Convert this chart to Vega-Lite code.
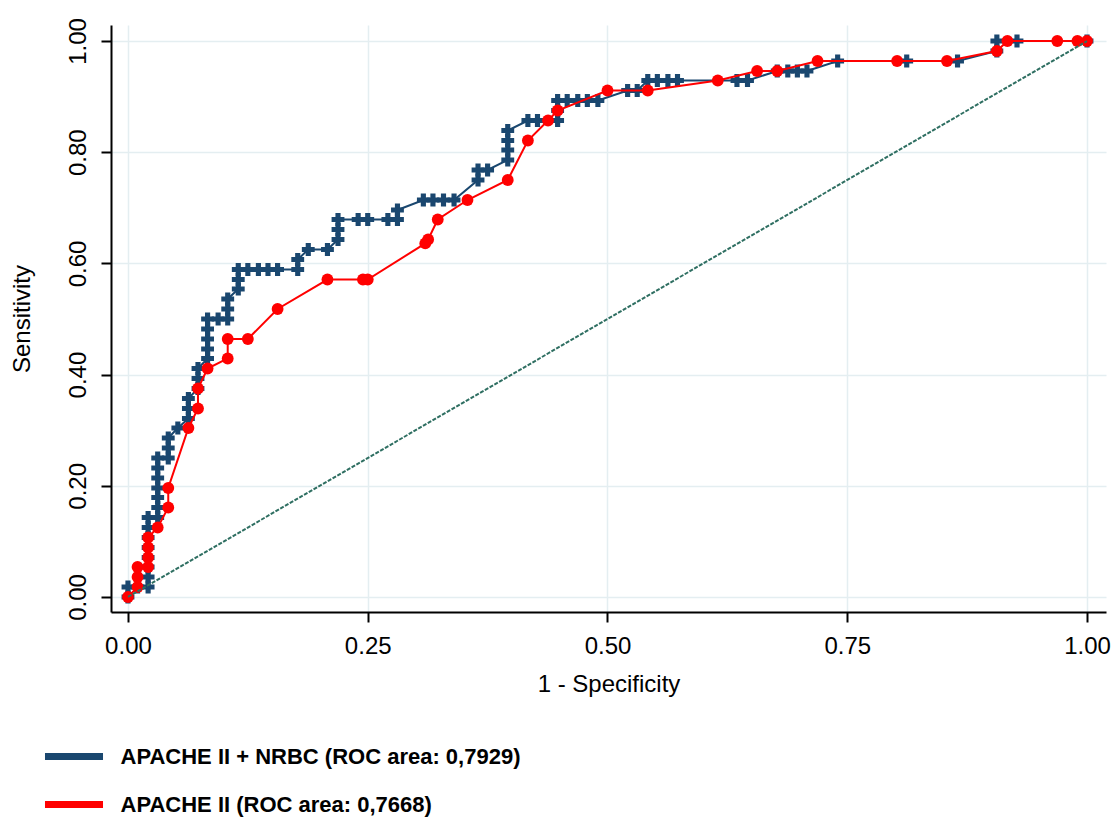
{
  "$schema": "https://vega.github.io/schema/vega-lite/v6.json",
  "width": 995,
  "height": 587,
  "autosize": {"type": "none"},
  "padding": {"left": 111, "top": 25, "right": 11, "bottom": 212},
  "background": "white",
  "config": {
    "view": {"stroke": null},
    "axis": {
      "domainColor": "black", "domainWidth": 2,
      "tickColor": "black", "tickWidth": 2, "tickSize": 10,
      "gridColor": "#e4eef1", "gridWidth": 1.5,
      "labelFont": "Liberation Sans", "labelFontSize": 24, "labelColor": "black",
      "titleFont": "Liberation Sans", "titleFontSize": 24, "titleFontWeight": "normal", "titleColor": "black"
    },
    "legend": {
      "orient": "none", "legendX": -66, "legendY": 718,
      "title": null, "padding": 0,
      "symbolType": "M-3,0H3", "symbolSize": 374, "symbolStrokeWidth": 7, "symbolOffset": 15.5,
      "labelOffset": 33, "labelFont": "Liberation Sans", "labelFontWeight": "bold",
      "labelFontSize": 22, "labelColor": "black", "labelLimit": 0, "rowPadding": 19
    }
  },
  "datasets": {
    "roc": [
      {"s":"b","i":1,"x":0,"y":0},
      {"s":"b","i":2,"x":0,"y":0.018},
      {"s":"b","i":3,"x":0.01,"y":0.018},
      {"s":"b","i":4,"x":0.021,"y":0.018},
      {"s":"b","i":5,"x":0.021,"y":0.036},
      {"s":"b","i":6,"x":0.021,"y":0.054},
      {"s":"b","i":7,"x":0.021,"y":0.071},
      {"s":"b","i":8,"x":0.021,"y":0.089},
      {"s":"b","i":9,"x":0.021,"y":0.107},
      {"s":"b","i":10,"x":0.021,"y":0.125},
      {"s":"b","i":11,"x":0.021,"y":0.143},
      {"s":"b","i":12,"x":0.031,"y":0.143},
      {"s":"b","i":13,"x":0.031,"y":0.161},
      {"s":"b","i":14,"x":0.031,"y":0.179},
      {"s":"b","i":15,"x":0.031,"y":0.196},
      {"s":"b","i":16,"x":0.031,"y":0.214},
      {"s":"b","i":17,"x":0.031,"y":0.232},
      {"s":"b","i":18,"x":0.031,"y":0.25},
      {"s":"b","i":19,"x":0.042,"y":0.25},
      {"s":"b","i":20,"x":0.042,"y":0.268},
      {"s":"b","i":21,"x":0.042,"y":0.286},
      {"s":"b","i":22,"x":0.052,"y":0.304},
      {"s":"b","i":23,"x":0.063,"y":0.321},
      {"s":"b","i":24,"x":0.063,"y":0.339},
      {"s":"b","i":25,"x":0.063,"y":0.357},
      {"s":"b","i":26,"x":0.073,"y":0.375},
      {"s":"b","i":27,"x":0.073,"y":0.393},
      {"s":"b","i":28,"x":0.073,"y":0.411},
      {"s":"b","i":29,"x":0.083,"y":0.429},
      {"s":"b","i":30,"x":0.083,"y":0.446},
      {"s":"b","i":31,"x":0.083,"y":0.464},
      {"s":"b","i":32,"x":0.083,"y":0.482},
      {"s":"b","i":33,"x":0.083,"y":0.5},
      {"s":"b","i":34,"x":0.094,"y":0.5},
      {"s":"b","i":35,"x":0.104,"y":0.5},
      {"s":"b","i":36,"x":0.104,"y":0.518},
      {"s":"b","i":37,"x":0.104,"y":0.536},
      {"s":"b","i":38,"x":0.115,"y":0.554},
      {"s":"b","i":39,"x":0.115,"y":0.571},
      {"s":"b","i":40,"x":0.115,"y":0.589},
      {"s":"b","i":41,"x":0.125,"y":0.589},
      {"s":"b","i":42,"x":0.136,"y":0.589},
      {"s":"b","i":43,"x":0.146,"y":0.589},
      {"s":"b","i":44,"x":0.156,"y":0.589},
      {"s":"b","i":45,"x":0.177,"y":0.589},
      {"s":"b","i":46,"x":0.177,"y":0.607},
      {"s":"b","i":47,"x":0.188,"y":0.625},
      {"s":"b","i":48,"x":0.208,"y":0.625},
      {"s":"b","i":49,"x":0.219,"y":0.643},
      {"s":"b","i":50,"x":0.219,"y":0.661},
      {"s":"b","i":51,"x":0.219,"y":0.679},
      {"s":"b","i":52,"x":0.24,"y":0.679},
      {"s":"b","i":53,"x":0.25,"y":0.679},
      {"s":"b","i":54,"x":0.271,"y":0.679},
      {"s":"b","i":55,"x":0.281,"y":0.679},
      {"s":"b","i":56,"x":0.281,"y":0.696},
      {"s":"b","i":57,"x":0.308,"y":0.714},
      {"s":"b","i":58,"x":0.318,"y":0.714},
      {"s":"b","i":59,"x":0.329,"y":0.714},
      {"s":"b","i":60,"x":0.34,"y":0.714},
      {"s":"b","i":61,"x":0.365,"y":0.75},
      {"s":"b","i":62,"x":0.365,"y":0.768},
      {"s":"b","i":63,"x":0.375,"y":0.768},
      {"s":"b","i":64,"x":0.396,"y":0.786},
      {"s":"b","i":65,"x":0.396,"y":0.804},
      {"s":"b","i":66,"x":0.396,"y":0.821},
      {"s":"b","i":67,"x":0.396,"y":0.839},
      {"s":"b","i":68,"x":0.417,"y":0.857},
      {"s":"b","i":69,"x":0.427,"y":0.857},
      {"s":"b","i":70,"x":0.448,"y":0.857},
      {"s":"b","i":71,"x":0.448,"y":0.875},
      {"s":"b","i":72,"x":0.448,"y":0.893},
      {"s":"b","i":73,"x":0.458,"y":0.893},
      {"s":"b","i":74,"x":0.469,"y":0.893},
      {"s":"b","i":75,"x":0.479,"y":0.893},
      {"s":"b","i":76,"x":0.49,"y":0.893},
      {"s":"b","i":77,"x":0.521,"y":0.911},
      {"s":"b","i":78,"x":0.531,"y":0.911},
      {"s":"b","i":79,"x":0.542,"y":0.929},
      {"s":"b","i":80,"x":0.552,"y":0.929},
      {"s":"b","i":81,"x":0.563,"y":0.929},
      {"s":"b","i":82,"x":0.573,"y":0.929},
      {"s":"b","i":83,"x":0.635,"y":0.929},
      {"s":"b","i":84,"x":0.646,"y":0.929},
      {"s":"b","i":85,"x":0.677,"y":0.946},
      {"s":"b","i":86,"x":0.688,"y":0.946},
      {"s":"b","i":87,"x":0.698,"y":0.946},
      {"s":"b","i":88,"x":0.708,"y":0.946},
      {"s":"b","i":89,"x":0.74,"y":0.964},
      {"s":"b","i":90,"x":0.812,"y":0.964},
      {"s":"b","i":91,"x":0.865,"y":0.964},
      {"s":"b","i":92,"x":0.906,"y":0.982},
      {"s":"b","i":93,"x":0.906,"y":1},
      {"s":"b","i":94,"x":0.927,"y":1},
      {"s":"b","i":95,"x":1,"y":1},
      {"s":"r","i":1,"x":0,"y":0},
      {"s":"r","i":2,"x":0.01,"y":0.018},
      {"s":"r","i":3,"x":0.01,"y":0.036},
      {"s":"r","i":4,"x":0.01,"y":0.054},
      {"s":"r","i":5,"x":0.021,"y":0.054},
      {"s":"r","i":6,"x":0.021,"y":0.071},
      {"s":"r","i":7,"x":0.021,"y":0.089},
      {"s":"r","i":8,"x":0.021,"y":0.107},
      {"s":"r","i":9,"x":0.031,"y":0.125},
      {"s":"r","i":10,"x":0.042,"y":0.161},
      {"s":"r","i":11,"x":0.042,"y":0.196},
      {"s":"r","i":12,"x":0.063,"y":0.304},
      {"s":"r","i":13,"x":0.073,"y":0.339},
      {"s":"r","i":14,"x":0.073,"y":0.375},
      {"s":"r","i":15,"x":0.083,"y":0.411},
      {"s":"r","i":16,"x":0.104,"y":0.429},
      {"s":"r","i":17,"x":0.104,"y":0.464},
      {"s":"r","i":18,"x":0.125,"y":0.464},
      {"s":"r","i":19,"x":0.156,"y":0.518},
      {"s":"r","i":20,"x":0.208,"y":0.571},
      {"s":"r","i":21,"x":0.245,"y":0.571},
      {"s":"r","i":22,"x":0.25,"y":0.571},
      {"s":"r","i":23,"x":0.31,"y":0.636},
      {"s":"r","i":24,"x":0.313,"y":0.643},
      {"s":"r","i":25,"x":0.323,"y":0.679},
      {"s":"r","i":26,"x":0.354,"y":0.714},
      {"s":"r","i":27,"x":0.396,"y":0.75},
      {"s":"r","i":28,"x":0.417,"y":0.821},
      {"s":"r","i":29,"x":0.438,"y":0.857},
      {"s":"r","i":30,"x":0.448,"y":0.875},
      {"s":"r","i":31,"x":0.5,"y":0.911},
      {"s":"r","i":32,"x":0.542,"y":0.911},
      {"s":"r","i":33,"x":0.615,"y":0.929},
      {"s":"r","i":34,"x":0.656,"y":0.946},
      {"s":"r","i":35,"x":0.677,"y":0.946},
      {"s":"r","i":36,"x":0.719,"y":0.964},
      {"s":"r","i":37,"x":0.802,"y":0.964},
      {"s":"r","i":38,"x":0.854,"y":0.964},
      {"s":"r","i":39,"x":0.906,"y":0.982},
      {"s":"r","i":40,"x":0.917,"y":1},
      {"s":"r","i":41,"x":0.969,"y":1},
      {"s":"r","i":42,"x":0.99,"y":1},
      {"s":"r","i":43,"x":1,"y":1}
    ],
    "diag": [
      {"x": 0, "y": 0},
      {"x": 1, "y": 1}
    ]
  },
  "layer": [
    {
      "data": {"name": "roc"},
      "transform": [{"filter": {"field": "s", "equal": "b"}}],
      "mark": {"type": "line", "strokeWidth": 2},
      "encoding": {
        "x": {
          "field": "x", "type": "quantitative",
          "scale": {"domain": [-0.0177, 1.0198], "nice": false, "zero": false},
          "axis": {"values": [0, 0.25, 0.5, 0.75, 1], "format": ".2f", "title": "1 - Specificity", "labelPadding": 12, "titlePadding": 14}
        },
        "y": {
          "field": "y", "type": "quantitative",
          "scale": {"domain": [-0.027, 1.0288], "nice": false, "zero": false},
          "axis": {"values": [0, 0.2, 0.4, 0.6, 0.8, 1], "format": ".2f", "title": "Sensitivity", "labelAngle": -90, "labelAlign": "center", "labelBaseline": "alphabetic", "labelPadding": 16, "titlePadding": 32}
        },
        "order": {"field": "i", "type": "quantitative"},
        "color": {
          "field": "s", "type": "nominal",
          "scale": {"domain": ["b", "r"], "range": ["#1a476f", "#ff0000"]},
          "legend": {"labelExpr": "datum.value == 'b' ? 'APACHE II + NRBC (ROC area: 0,7929)' : 'APACHE II (ROC area: 0,7668)'"}
        }
      }
    },
    {
      "data": {"name": "roc"},
      "transform": [{"filter": {"field": "s", "equal": "b"}}],
      "mark": {"type": "point", "shape": "cross", "filled": true, "color": "#1a476f", "size": 165, "opacity": 1},
      "encoding": {
        "x": {"field": "x", "type": "quantitative"},
        "y": {"field": "y", "type": "quantitative"}
      }
    },
    {
      "data": {"name": "roc"},
      "transform": [{"filter": {"field": "s", "equal": "r"}}],
      "mark": {"type": "line", "strokeWidth": 2},
      "encoding": {
        "x": {"field": "x", "type": "quantitative"},
        "y": {"field": "y", "type": "quantitative"},
        "order": {"field": "i", "type": "quantitative"},
        "color": {"field": "s", "type": "nominal"}
      }
    },
    {
      "data": {"name": "roc"},
      "transform": [{"filter": {"field": "s", "equal": "r"}}],
      "mark": {"type": "point", "shape": "circle", "filled": true, "color": "#ff0000", "size": 140, "opacity": 1},
      "encoding": {
        "x": {"field": "x", "type": "quantitative"},
        "y": {"field": "y", "type": "quantitative"}
      }
    },
    {
      "data": {"name": "diag"},
      "mark": {"type": "line", "color": "#2f6f62", "strokeWidth": 2, "strokeDash": [4, 1.5]},
      "encoding": {
        "x": {"field": "x", "type": "quantitative"},
        "y": {"field": "y", "type": "quantitative"}
      }
    }
  ]
}
